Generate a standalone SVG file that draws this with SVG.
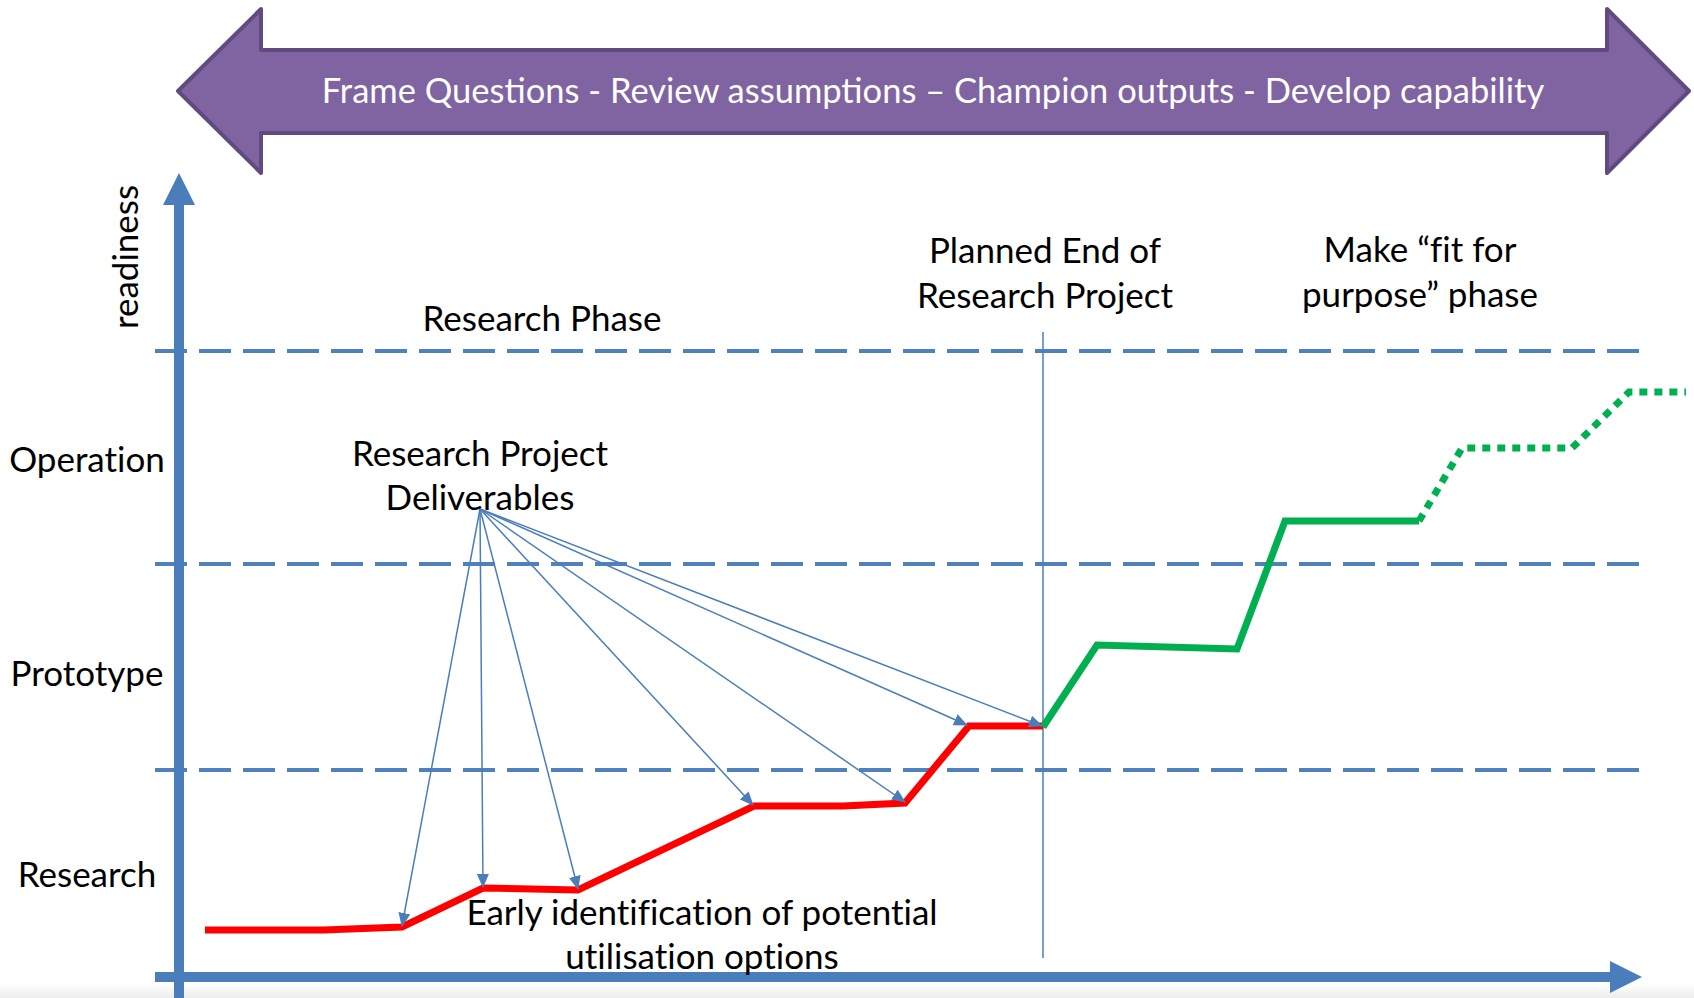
<svg xmlns="http://www.w3.org/2000/svg" width="1694" height="998" viewBox="0 0 1694 998">
  <defs>
    <style>
      .lbl { font-family: Lato, "Open Sans", sans-serif; font-size: 35px; fill: #000; text-anchor: middle; font-variant-ligatures: none; }
      .banner { font-family: Lato, "Open Sans", sans-serif; font-size: 34.5px; fill: #fff; text-anchor: middle; }
      .dash { stroke: #4F81BD; stroke-width: 4; stroke-dasharray: 32 12; fill: none; }
      .ptr { stroke: #4A7EBB; stroke-width: 1.5; fill: none; marker-end: url(#ah); }
      .axis { stroke: #4A7EBB; stroke-width: 10; fill: none; }
    </style>
    <marker id="ah" markerUnits="userSpaceOnUse" markerWidth="14" markerHeight="12" refX="13" refY="6" orient="auto">
      <path d="M0,0 L14,6 L0,12 Z" fill="#4A7EBB"/>
    </marker>
    <linearGradient id="shade" x1="0" y1="0" x2="0" y2="1">
      <stop offset="0" stop-color="#ffffff"/>
      <stop offset="1" stop-color="#ececec"/>
    </linearGradient>
  </defs>
  <rect x="0" y="0" width="1694" height="998" fill="#fff"/>
  <rect x="0" y="984" width="1694" height="14" fill="url(#shade)"/>

  <g id="banner">
    <path d="M178,91 L261,9 L261,50 L1607,50 L1607,9 L1689,91 L1607,173 L1607,133 L261,133 L261,173 Z" fill="#8064A2" stroke="#5F4B80" stroke-width="4" stroke-linejoin="round"/>
    <text class="banner" x="933" y="103">Frame Questions - Review assumptions – Champion outputs - Develop capability</text>
  </g>

  <g id="gridlines">
    <line class="dash" x1="155" y1="351" x2="1640" y2="351"/>
    <line class="dash" x1="155" y1="564" x2="1640" y2="564"/>
    <line class="dash" x1="155" y1="770" x2="1640" y2="770"/>
  </g>

  <g id="axes">
    <line class="axis" x1="179" y1="200" x2="179" y2="998"/>
    <polygon points="163,205 179,173 195,205" fill="#4A7EBB"/>
    <line class="axis" x1="155" y1="977" x2="1612" y2="977"/>
    <polygon points="1610,961 1642,977 1610,993" fill="#4A7EBB"/>
  </g>

  <g id="end-marker">
    <line x1="1043" y1="332" x2="1043" y2="958" stroke="#4A7EBB" stroke-width="1.5"/>
  </g>

  <g id="research-path">
    <polyline points="205,930 324,930 402,927 483,888 578,890 754,806 843,806 905,803 969,726 1043,726" fill="none" stroke="#FF0000" stroke-width="7" stroke-linejoin="miter"/>
  </g>

  <g id="fit-path">
    <polyline points="1043,727 1097,645 1237,649 1285,521 1419,521" fill="none" stroke="#00B050" stroke-width="7"/>
    <polyline points="1419,521 1462,448 1572,448 1629,392 1686,392" fill="none" stroke="#00B050" stroke-width="7" stroke-dasharray="8 7"/>
  </g>

  <g id="connectors">
    <line class="ptr" x1="480" y1="509" x2="402" y2="926"/>
    <line class="ptr" x1="480" y1="509" x2="483" y2="887"/>
    <line class="ptr" x1="480" y1="509" x2="578" y2="889"/>
    <line class="ptr" x1="480" y1="509" x2="753" y2="805"/>
    <line class="ptr" x1="480" y1="509" x2="905" y2="802"/>
    <line class="ptr" x1="480" y1="509" x2="967" y2="725"/>
    <line class="ptr" x1="480" y1="509" x2="1042" y2="726"/>
  </g>

  <g id="label-readiness">
    <text class="lbl" transform="translate(138,257) rotate(-90)">readiness</text>
  </g>
  <g id="label-operation"><text class="lbl" x="87" y="472">Operation</text></g>
  <g id="label-prototype"><text class="lbl" x="87" y="686">Prototype</text></g>
  <g id="label-research"><text class="lbl" x="87" y="887">Research</text></g>
  <g id="label-phase"><text class="lbl" x="542" y="331">Research Phase</text></g>
  <g id="label-deliverables">
    <text class="lbl" x="480" y="466">Research Project</text>
    <text class="lbl" x="480" y="510">Deliverables</text>
  </g>
  <g id="label-planned-end">
    <text class="lbl" x="1045" y="263">Planned End of</text>
    <text class="lbl" x="1045" y="308">Research Project</text>
  </g>
  <g id="label-fit">
    <text class="lbl" x="1420" y="262">Make “fit for</text>
    <text class="lbl" x="1420" y="307">purpose” phase</text>
  </g>
  <g id="label-early">
    <text class="lbl" x="702" y="925">Early identification of potential</text>
    <text class="lbl" x="702" y="969">utilisation options</text>
  </g>
</svg>
